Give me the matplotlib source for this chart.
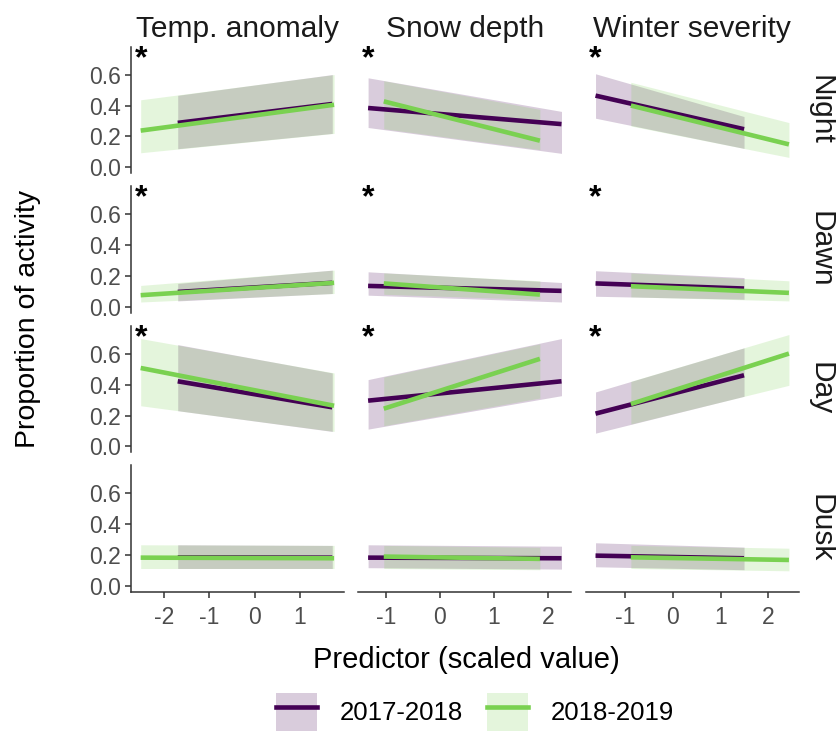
import numpy as np
import matplotlib
matplotlib.use("Agg")
import matplotlib.pyplot as plt
from matplotlib.patches import Patch
from matplotlib.lines import Line2D
from matplotlib.ticker import MultipleLocator, FormatStrFormatter

plt.rcParams['font.family'] = ['Liberation Sans', 'DejaVu Sans']
plt.rcParams['axes.unicode_minus'] = False

predictors = ["Temp. anomaly", "Snow depth", "Winter severity"]
periods = ["Night", "Dawn", "Day", "Dusk"]
years = ["2017-2018", "2018-2019"]
colors = ["#440154", "#7AD151"]

# predictor range covered by each winter (per column)
x_1718 = [(-1.70, 1.72), (-1.33, 2.25), (-1.62, 1.49)]
x_1819 = [(-2.52, 1.76), (-1.04, 1.85), (-0.88, 2.43)]

# fitted proportion at start / end of range, [row][col]
fit_1718 = [[(0.288, 0.410), (0.384, 0.280), (0.464, 0.247)],
            [(0.097, 0.156), (0.136, 0.104), (0.152, 0.119)],
            [(0.421, 0.253), (0.296, 0.421), (0.212, 0.460)],
            [(0.185, 0.183), (0.183, 0.179), (0.196, 0.179)]]
lo_1718 = [[(0.121, 0.220), (0.258, 0.091), (0.318, 0.123)],
           [(0.039, 0.087), (0.076, 0.032), (0.069, 0.050)],
           [(0.231, 0.097), (0.112, 0.328), (0.086, 0.324)],
           [(0.113, 0.113), (0.118, 0.109), (0.124, 0.105)]]
hi_1718 = [[(0.466, 0.600), (0.579, 0.362), (0.605, 0.329)],
           [(0.152, 0.238), (0.227, 0.158), (0.234, 0.190)],
           [(0.658, 0.475), (0.432, 0.697), (0.352, 0.637)],
           [(0.266, 0.262), (0.266, 0.257), (0.279, 0.251)]]

fit_1819 = [[(0.238, 0.405), (0.427, 0.173), (0.400, 0.149)],
            [(0.076, 0.156), (0.152, 0.080), (0.134, 0.091)],
            [(0.507, 0.263), (0.244, 0.566), (0.274, 0.600)],
            [(0.183, 0.179), (0.190, 0.175), (0.185, 0.168)]]
lo_1819 = [[(0.095, 0.220), (0.250, 0.115), (0.268, 0.065)],
           [(0.032, 0.087), (0.082, 0.048), (0.065, 0.039)],
           [(0.263, 0.097), (0.134, 0.313), (0.145, 0.395)],
           [(0.113, 0.113), (0.113, 0.105), (0.113, 0.098)]]
hi_1819 = [[(0.437, 0.600), (0.560, 0.375), (0.550, 0.290)],
           [(0.139, 0.238), (0.220, 0.169), (0.220, 0.169)],
           [(0.697, 0.475), (0.449, 0.663), (0.421, 0.723)],
           [(0.266, 0.262), (0.262, 0.250), (0.262, 0.244)]]

significant = [[True, True, True],
               [True, True, True],
               [True, True, True],
               [False, False, False]]

xs = [x_1718, x_1819]
fits = [fit_1718, fit_1819]
los = [lo_1718, lo_1819]
his = [hi_1718, hi_1819]

W, H = 836, 733
fig, axes = plt.subplots(4, 3, figsize=(W / 100, H / 100), dpi=100,
                         sharex='col', sharey=True)
fig.subplots_adjust(left=131 / W, right=798.6 / W, top=1 - 46.7 / H,
                    bottom=1 - 591.7 / H, wspace=0.069, hspace=0.103)

axcol = "#333333"
for r in range(4):
    for c in range(3):
        ax = axes[r, c]
        for k in range(2):
            ax.fill_between(xs[k][c], los[k][r][c], his[k][r][c],
                            color=colors[k], alpha=0.2, linewidth=0)
        for k in range(2):
            ax.plot(xs[k][c], fits[k][r][c], color=colors[k], lw=3.3,
                    solid_capstyle='butt')
        if significant[r][c]:
            xmin = min(x_1718[c][0], x_1819[c][0])
            ax.text(xmin, 0.70, "*", fontsize=23, fontweight='bold',
                    ha='center', va='center', color='black')
        ax.set_ylim(-0.037, 0.78)
        ax.yaxis.set_major_locator(MultipleLocator(0.2))
        ax.yaxis.set_major_formatter(FormatStrFormatter('%.1f'))
        ax.xaxis.set_major_locator(MultipleLocator(1))
        for s in ['top', 'right']:
            ax.spines[s].set_visible(False)
        ax.spines['left'].set_visible(c == 0)
        ax.spines['bottom'].set_visible(r == 3)
        ax.spines['left'].set_color(axcol)
        ax.spines['bottom'].set_color(axcol)
        ax.spines['left'].set_linewidth(1.1)
        ax.spines['bottom'].set_linewidth(1.1)
        ax.tick_params(axis='both', colors=axcol, labelcolor="#4D4D4D",
                       labelsize=16.5, length=4, width=1.1, pad=3)
        ax.tick_params(axis='x', pad=6)
        ax.tick_params(axis='y', left=(c == 0), labelleft=(c == 0))
        ax.tick_params(axis='x', bottom=(r == 3), labelbottom=(r == 3))
        if r == 0:
            ax.set_title(predictors[c], fontsize=21.5, pad=7, color='#1A1A1A')
        if c == 2:
            ax.text(1.035, 0.5, periods[r], transform=ax.transAxes,
                    rotation=-90, ha='left', va='center', fontsize=21.5,
                    color='#1A1A1A')

fig.text(466 / W, 1 - 660 / H, "Predictor (scaled value)", ha='center',
         va='center', fontsize=21)
fig.text(28 / W, 1 - 319 / H, "Proportion of activity", ha='center',
         va='center', rotation=90, fontsize=20.5)

handles = [(Patch(facecolor=colors[k], alpha=0.2, edgecolor='none'),
            Line2D([], [], color=colors[k], lw=3.3)) for k in range(2)]
fig.legend(handles, years, loc='center', bbox_to_anchor=(475 / W, 1 - 712 / H),
           ncol=2, frameon=False, fontsize=18.5, handlelength=1.6,
           handleheight=1.9, columnspacing=0.9, handletextpad=0.9)

fig.savefig("out.png", dpi=100)
